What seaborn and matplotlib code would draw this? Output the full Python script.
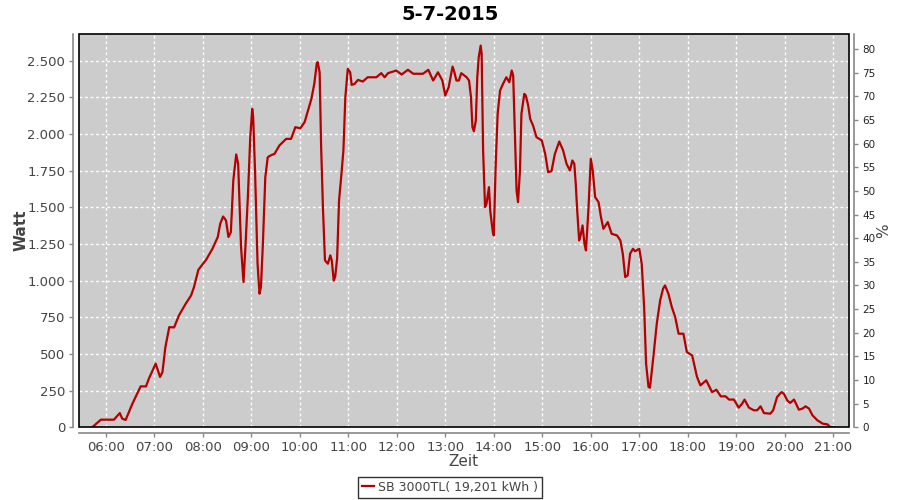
import pandas as pd
import matplotlib
matplotlib.use("Agg")
import matplotlib.pyplot as plt
import seaborn as sns
from matplotlib.patches import Rectangle
from matplotlib.ticker import FuncFormatter, MultipleLocator

# Zeitpunkte (Stunden, dezimal) und Leistung in Watt
stunden = [
    5.72, 5.90, 6.17, 6.29, 6.34, 6.41, 6.55, 6.72, 6.83, 6.89, 7.03, 7.12, 7.17,
    7.23, 7.31, 7.41, 7.51, 7.65, 7.76, 7.82, 7.91, 8.07, 8.20, 8.31, 8.36, 8.42,
    8.48, 8.53, 8.58, 8.63, 8.69, 8.73, 8.79, 8.84, 8.88, 8.93, 8.98, 9.02, 9.04,
    9.08, 9.13, 9.17, 9.20, 9.24, 9.29, 9.34, 9.41, 9.48, 9.58, 9.72, 9.82, 9.91,
    10.01, 10.10, 10.17, 10.24, 10.30, 10.35, 10.37, 10.41, 10.44, 10.48, 10.52,
    10.58, 10.63, 10.66, 10.70, 10.73, 10.77, 10.81, 10.86, 10.90, 10.94, 10.99,
    11.04, 11.07, 11.13, 11.20, 11.30, 11.40, 11.58, 11.68, 11.75, 11.82, 11.99,
    12.10, 12.23, 12.34, 12.54, 12.65, 12.75, 12.85, 12.94, 13.00, 13.07, 13.15,
    13.18, 13.23, 13.28, 13.33, 13.44, 13.49, 13.53, 13.56, 13.59, 13.63, 13.66,
    13.69, 13.73, 13.75, 13.78, 13.82, 13.85, 13.90, 13.93, 13.98, 14.00, 14.04,
    14.08, 14.13, 14.19, 14.26, 14.32, 14.37, 14.40, 14.44, 14.47, 14.50, 14.54,
    14.57, 14.63, 14.66, 14.71, 14.75, 14.81, 14.88, 14.99, 15.06, 15.12, 15.19,
    15.26, 15.35, 15.43, 15.50, 15.57, 15.62, 15.66, 15.69, 15.72, 15.76, 15.79,
    15.83, 15.87, 15.90, 15.95, 16.00, 16.04, 16.09, 16.16, 16.21, 16.26, 16.35,
    16.43, 16.54, 16.61, 16.66, 16.71, 16.76, 16.81, 16.87, 16.91, 17.00, 17.05,
    17.10, 17.14, 17.19, 17.22, 17.29, 17.36, 17.43, 17.49, 17.53, 17.60, 17.67,
    17.74, 17.81, 17.91, 17.98, 18.09, 18.19, 18.26, 18.38, 18.50, 18.59, 18.68,
    18.78, 18.85, 18.95, 19.05, 19.12, 19.17, 19.26, 19.36, 19.43, 19.50, 19.57,
    19.70, 19.76, 19.84, 19.93, 19.98, 20.05, 20.11, 20.19, 20.29, 20.36, 20.43,
    20.50, 20.57, 20.67, 20.78, 20.88, 20.94, 21.01,
]
watt = [
    0, 52, 52, 97, 59, 50, 161, 279, 279, 332, 434, 343, 377,
    547, 683, 681, 763, 843, 899, 956, 1074, 1142, 1217, 1297, 1387, 1437,
    1410, 1297, 1331, 1683, 1860, 1796, 1228, 990, 1228, 1569, 1978, 2171, 2114,
    1728, 1115, 911, 956, 1251, 1705, 1841, 1855, 1864, 1921, 1966, 1966, 2046,
    2038, 2080, 2160, 2239, 2341, 2478, 2489, 2420, 1921, 1478, 1138,
    1115, 1172, 1138, 1001, 1024, 1149, 1546, 1728, 1887, 2250, 2443,
    2420, 2334, 2341, 2368, 2357, 2386, 2386, 2414, 2386, 2414, 2432,
    2405, 2437, 2410, 2410, 2437, 2364, 2420, 2364, 2262, 2318, 2459,
    2430, 2364, 2364, 2414, 2386, 2364, 2250, 2046, 2018, 2091, 2386,
    2523, 2602, 2546, 1887, 1501, 1523, 1637, 1467, 1331, 1308, 1796,
    2137, 2296, 2341, 2386, 2352, 2432, 2398, 1955, 1614, 1535, 1751,
    2137, 2273, 2262, 2193, 2103, 2057, 1978, 1955, 1864, 1739, 1746,
    1864, 1948, 1887, 1796, 1750, 1819, 1796, 1660, 1478, 1274, 1308,
    1376, 1251, 1206, 1478, 1830, 1750, 1569, 1535, 1433, 1353, 1399,
    1319, 1308, 1274, 1183, 1024, 1035, 1183, 1217, 1200, 1217, 1115,
    820, 434, 275, 270, 479, 706, 865, 945, 967, 911, 820,
    751, 638, 638, 513, 490, 343, 286, 320, 240, 256, 211,
    211, 189, 189, 134, 161, 189, 134, 116, 116, 143, 97,
    93, 116, 206, 240, 229, 184, 166, 189, 120, 127, 143,
    127, 82, 48, 25, 20, 0, 0,
]
titel = "5-7-2015"
serie = "SB 3000TL( 19,201 kWh )"
x_ticks = list(range(6, 22))

ROT = "#b40000"
GRAU_ACHSE = "#888888"
TEXT = "#444444"

df = pd.DataFrame({"Zeit": stunden, "Watt": watt})

plt.rcParams["font.family"] = ["DejaVu Sans"]

fig = plt.figure(figsize=(9, 5), dpi=100)
ax = fig.add_axes([79 / 900, 1 - 427.3 / 500, 769.5 / 900, 393.3 / 500])
ax.set_facecolor("#cccccc")

sns.lineplot(data=df, x="Zeit", y="Watt", ax=ax, color=ROT, linewidth=1.6,
             label=serie, legend=False)

ax.set_xlim(5.449, 21.313)
ax.set_ylim(0, 2681)
ax.set_xticks(x_ticks)
ax.xaxis.set_major_formatter(FuncFormatter(lambda v, p: f"{int(round(v)):02d}:00"))
ax.yaxis.set_major_locator(MultipleLocator(250))
ax.yaxis.set_major_formatter(FuncFormatter(lambda v, p: f"{int(v):,}".replace(",", ".")))
ax.grid(True, color="white", linestyle=(0, (2, 2)), linewidth=1)
ax.set_axisbelow(True)

# schwarzer Rahmen um die Plotfläche, über den Gitterlinien
ax.add_patch(Rectangle((0, 0), 1, 1, transform=ax.transAxes, fill=False,
                       edgecolor="black", linewidth=1.2, zorder=10, clip_on=False))
for s in ["top", "right"]:
    ax.spines[s].set_visible(False)
for s in ["left", "bottom"]:
    ax.spines[s].set_position(("outward", 4))
    ax.spines[s].set_color(GRAU_ACHSE)
    ax.spines[s].set_linewidth(1.2)

ax.tick_params(axis="both", direction="out", length=3, width=1, color=GRAU_ACHSE,
               labelcolor=TEXT, labelsize=9.5, pad=3)
ax.set_xlabel("Zeit", fontsize=11, color=TEXT, labelpad=0)
ax.set_ylabel("Watt", fontsize=11, color=TEXT, fontweight="bold")
ax.yaxis.set_label_coords(-0.066, 0.5)

# rechte Achse in Prozent
ax2 = ax.twinx()
ax2.set_ylim(0, 83.2)
ax2.yaxis.set_major_locator(MultipleLocator(5))
for s in ["top", "left", "bottom"]:
    ax2.spines[s].set_visible(False)
ax2.spines["right"].set_position(("outward", 4))
ax2.spines["right"].set_color(GRAU_ACHSE)
ax2.spines["right"].set_linewidth(1.2)
ax2.tick_params(axis="y", direction="out", length=3, width=1, color=GRAU_ACHSE,
                labelcolor="#222222", labelsize=7.5, pad=3)
ax2.set_ylabel("%", fontsize=11, color=TEXT)
ax2.yaxis.set_label_coords(1.036, 0.5)

fig.suptitle(titel, x=0.5, y=0.99, fontsize=14, fontweight="bold", color="black")

handles, labels = ax.get_legend_handles_labels()
leg = fig.legend(handles, labels, loc="lower center", bbox_to_anchor=(0.5, 0.005),
                 frameon=True, fancybox=False, edgecolor="black", fontsize=9,
                 handlelength=1.0, handletextpad=0.3, borderpad=0.3,
                 borderaxespad=0)
leg.get_frame().set_linewidth(1)
for t in leg.get_texts():
    t.set_color(TEXT)

fig.savefig("out.png", dpi=100, facecolor="white")
